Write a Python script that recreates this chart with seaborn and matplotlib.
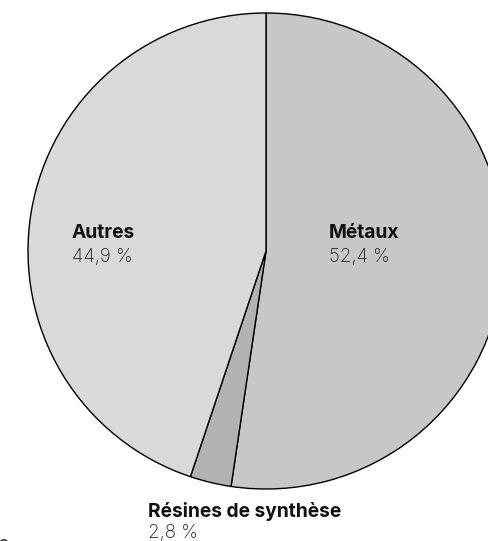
import matplotlib
matplotlib.use("Agg")
import matplotlib.pyplot as plt
import seaborn as sns

# Share of materials (percent)
categories = ["Métaux", "Résines de synthèse", "Autres"]
shares = [52.4, 2.8, 44.9]
share_labels = ["52,4 %", "2,8 %", "44,9 %"]
slice_colors = ["#c6c7c6", "#b1b2b4", "#d9d9d9"]

sns.set_theme(style="white")
plt.rcParams["font.family"] = ["Inter", "DejaVu Sans"]

W, H = 488, 541
fig = plt.figure(figsize=(W / 100, H / 100), dpi=100)
ax = fig.add_axes([0, 0, 1, 1])

cx, cy, r = 266, H - 251, 238
ax.pie(
    shares,
    colors=slice_colors,
    startangle=90,
    counterclock=False,
    center=(cx, cy),
    radius=r,
    wedgeprops=dict(edgecolor="black", linewidth=1.0),
    frame=True,
)
ax.set_xlim(0, W)
ax.set_ylim(0, H)
ax.set_aspect("equal")
ax.axis("off")

# Label anchors (left edge, baseline of name line, gap to value line)
label_pos = {
    "Métaux": (329, H - 238, 24),
    "Autres": (72, H - 238, 24),
    "Résines de synthèse": (148, H - 517, 21),
}
for name, lab in zip(categories, share_labels):
    x, y, gap = label_pos[name]
    ax.text(x, y, name, ha="left", va="baseline", fontsize=13.8,
            fontweight="bold", color="#111111")
    ax.text(x, y - gap, lab, ha="left", va="baseline", fontsize=13.5,
            fontweight="light", color="#1e1e1e")

fig.text(-0.004, 5 / H, "o", ha="left", va="top", fontsize=14, color="#333333")

fig.savefig("out.png", dpi=100, facecolor="white")
